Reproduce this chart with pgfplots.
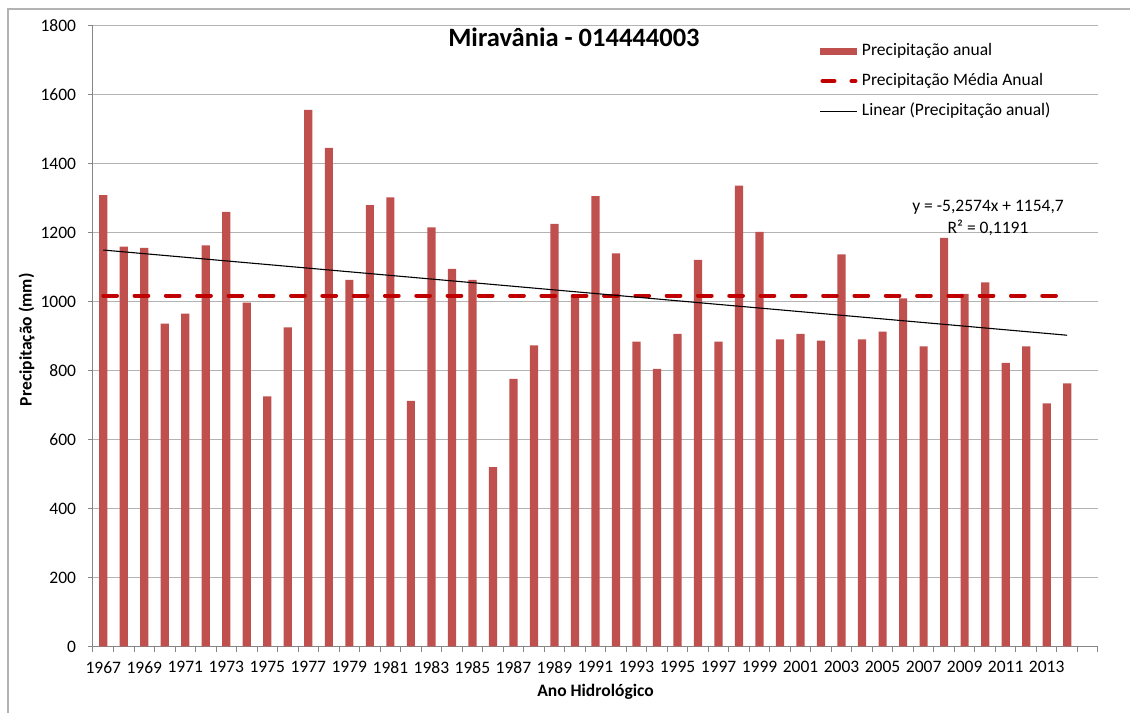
\documentclass[border=0pt]{standalone}
\usepackage{pgfplots}
\pgfplotsset{compat=1.18}
\usepackage{pgfplotstable}
\usepackage{fontspec}
\setmainfont{Carlito}
\definecolor{barred}{HTML}{C0504D}
\definecolor{meanred}{HTML}{C00000}
\definecolor{gridgray}{HTML}{B3B3B3}
\definecolor{axisgray}{HTML}{868686}
\definecolor{framegray}{HTML}{B3B3B3}

\pgfplotstableread{
year precip
1967 1309
1968 1159
1969 1156
1970 936
1971 965
1972 1163
1973 1260
1974 997
1975 725
1976 925
1977 1556
1978 1446
1979 1063
1980 1280
1981 1302
1982 712
1983 1215
1984 1095
1985 1063
1986 520
1987 776
1988 873
1989 1225
1990 1015
1991 1306
1992 1140
1993 884
1994 805
1995 906
1996 1121
1997 884
1998 1336
1999 1202
2000 890
2001 906
2002 887
2003 1137
2004 890
2005 913
2006 1009
2007 870
2008 1185
2009 1022
2010 1056
2011 822
2012 870
2013 705
2014 763
}\precip

\pgfplotstableread{
year mean
1967 1017
2014 1017
}\meanline

\pgfplotstableread{
year trend
1967 1149.44
2014 902.35
}\trendline

\begin{document}
\begin{tikzpicture}
\useasboundingbox (-93bp,-66.6bp) rectangle (1037bp,646.4bp);
\begin{axis}[
  at={(0bp,0bp)}, anchor=south west,
  scale only axis, width=1005bp, height=620.7bp,
  xmin=1966.5, xmax=2015.5, ymin=0, ymax=1800,
  axis lines*=left,
  axis line style={draw=axisgray, line width=1bp},
  xtick={1966.5,1967.5,...,2015.5},
  xticklabels={1967,,1969,,1971,,1973,,1975,,1977,,1979,,1981,,1983,,1985,,1987,,1989,,1991,,1993,,1995,,1997,,1999,,2001,,2003,,2005,,2007,,2009,,2011,,2013,,,,},
  tick label style={font=\fontsize{17.5bp}{21bp}\selectfont},
  xticklabel style={anchor=north, xshift=10.255bp, yshift=-6bp},
  ytick={0,200,...,1800},
  yticklabel style={anchor=east, xshift=-8bp},
  /pgf/number format/assume math mode=true,
  /pgf/number format/1000 sep={},
  tick align=outside,
  major tick length=5.5bp,
  tick style={draw=axisgray, line width=1bp},
  ymajorgrids,
  grid style={draw=gridgray, line width=1bp},
  xlabel={Ano Hidrológico},
  ylabel={Precipitação (mm)},
  label style={font=\bfseries\fontsize{17.5bp}{21bp}\selectfont},
  xlabel style={at={(axis description cs:0.5,-0.0815)}, anchor=base},
  ylabel style={at={(axis description cs:-0.061,0.494)}, anchor=base},
  legend style={at={(0.7234,0.9721)}, anchor=north west, draw=none, fill=none,
    inner sep=0pt, outer sep=0pt, row sep=14bp, column sep=4bp,
    font=\fontsize{17.5bp}{21bp}\selectfont,
    nodes={inner sep=0pt, text height=12bp, text depth=4bp}},
  legend cell align=left,
]
\addplot[ybar, bar width=8.2bp, fill=barred, draw=none,
  legend image code/.code={\fill[barred] (0bp,-3.5bp) rectangle (37bp,3.5bp);}]
  table[x=year, y=precip] {\precip};
\addlegendentry{Precipitação anual}
\addplot[meanred, line width=4bp, line cap=round, dash pattern=on 13.7bp off 17.6bp,
  legend image code/.code={\draw[meanred, line width=4bp, line cap=round, dash pattern=on 12bp off 17bp] (2bp,0bp) -- (35bp,0bp);}]
  table[x=year, y=mean] {\meanline};
\addlegendentry{Precipitação Média Anual}
\addplot[black, line width=1.1bp,
  legend image code/.code={\draw[black, line width=1bp] (0bp,0bp) -- (37bp,0bp);}]
  table[x=year, y=trend] {\trendline};
\addlegendentry{Linear (Precipitação anual)}
\node[anchor=base, font=\bfseries\fontsize{26.5bp}{31bp}\selectfont] at (axis cs:1989.95,1741) {Miravânia - 014444003};
\node[anchor=base, font=\fontsize{17.5bp}{21bp}\selectfont] at (axis cs:2010.14,1261) {y = -5,2574x + 1154,7};
\node[anchor=base, font=\fontsize{17.5bp}{21bp}\selectfont] at (axis cs:2010.14,1198) {R² = 0,1191};
\end{axis}
\draw[framegray, line width=1.3bp] (-85bp,-70bp) -- (-85bp,637.4bp) -- (1040bp,637.4bp);
\end{tikzpicture}
\end{document}
